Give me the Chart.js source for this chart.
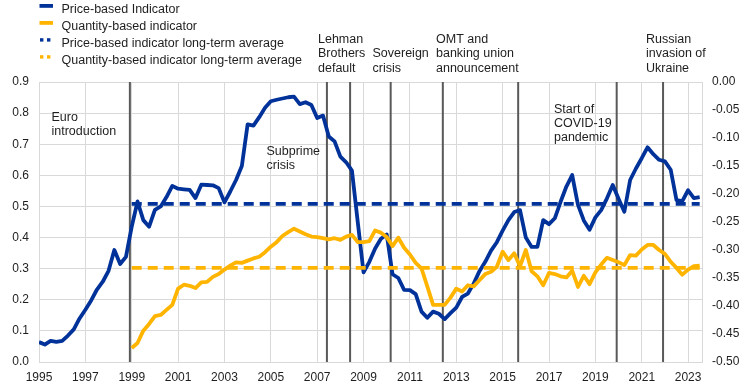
<!DOCTYPE html>
<html><head><meta charset="utf-8">
<script src="https://cdn.jsdelivr.net/npm/chart.js@4"></script>
<style>html,body{margin:0;padding:0;background:#fff}#wrap{width:744px;height:390px}</style>
</head><body><div id="wrap"><canvas id="c" width="744" height="390"></canvas></div>
<script>
// ---------- DATA ----------
const priceStartYear = 1995;      // quarterly, first observation 1995 Q1
const quantityStartYear = 1999;   // quarterly, first observation 1999 Q1
const priceValues = [
  0.064,0.056,0.068,0.065, 0.068,0.085,0.105,0.140, 0.168,0.198,0.233,0.258, 0.293,0.360,0.315,0.338,
  0.435,0.516,0.456,0.435, 0.489,0.500,0.530,0.566, 0.557,0.555,0.553,0.527, 0.570,0.569,0.568,0.559,
  0.513,0.548,0.585,0.630, 0.764,0.760,0.787,0.817, 0.838,0.843,0.847,0.851, 0.853,0.829,0.835,0.826,
  0.784,0.792,0.725,0.709, 0.660,0.642,0.615,0.450, 0.288,0.322,0.365,0.396, 0.410,0.282,0.270,0.232,
  0.231,0.218,0.162,0.142, 0.162,0.155,0.138,0.157, 0.175,0.209,0.220,0.252, 0.292,0.322,0.358,0.385,
  0.422,0.456,0.482,0.488, 0.400,0.370,0.370,0.456, 0.443,0.462,0.515,0.564, 0.601,0.505,0.455,0.425,
  0.465,0.488,0.526,0.569, 0.525,0.483,0.585,0.622, 0.655,0.690,0.668,0.650, 0.645,0.618,0.520,0.517,
  0.552,0.527,0.530
];
const quantityValues = [
  -0.475,-0.466,-0.444,-0.432, -0.418,-0.416,-0.407,-0.398, -0.369,-0.362,-0.364,-0.368, -0.358,-0.357,-0.348,-0.343,
  -0.335,-0.328,-0.322,-0.323, -0.319,-0.315,-0.312,-0.304, -0.294,-0.286,-0.275,-0.268, -0.262,-0.267,-0.272,-0.276,
  -0.277,-0.279,-0.281,-0.279, -0.282,-0.276,-0.273,-0.286, -0.286,-0.284,-0.265,-0.269, -0.277,-0.293,-0.278,-0.296,
  -0.308,-0.323,-0.333,-0.365, -0.398,-0.398,-0.398,-0.385, -0.369,-0.374,-0.363,-0.365, -0.354,-0.343,-0.339,-0.330,
  -0.303,-0.318,-0.306,-0.329, -0.300,-0.338,-0.347,-0.363, -0.341,-0.343,-0.347,-0.349, -0.337,-0.366,-0.346,-0.361,
  -0.340,-0.326,-0.314,-0.318, -0.322,-0.327,-0.309,-0.310, -0.299,-0.291,-0.291,-0.300, -0.307,-0.321,-0.332,-0.344,
  -0.335,-0.329,-0.328
];
const priceLongTermAverage = 0.508;
const quantityLongTermAverage = -0.332;
const averageFromYear = 1999;
const averageToYear = 2023.5;
const xTickYears = [1995,1997,1999,2001,2003,2005,2007,2009,2011,2013,2015,2017,2019,2021,2023];
const eventYears = [1998.92, 2007.42, 2008.42, 2010.17, 2012.42, 2015.67, 2019.92, 2021.92];
const eventTexts = [
  ["Euro","introduction"],
  ["Subprime","crisis"],
  ["Lehman","Brothers","default"],
  ["Sovereign","crisis"],
  ["OMT and","banking union","announcement"],
  ["Start of","COVID-19","pandemic"],
  ["Russian","invasion of","Ukraine"]
];
const legendTexts = [
  "Price-based Indicator",
  "Quantity-based indicator",
  "Price-based indicator long-term average",
  "Quantity-based indicator long-term average"
];

// ---------- STYLE / LAYOUT ----------
const BLUE = '#003299', YELLOW = '#FFB400', GRID = '#d9d9d9', EVENT = '#595959', TXT = '#1e1e1e';
const FONT = '"Liberation Sans", Arial, sans-serif';
const textPos = [ // pixel anchors for the annotation blocks (x, first baseline)
  [51.5,121],[266.5,155],[318,43],[372.5,57.3],[436,43],[554,112.5],[646,42.7]
];
const LINE_H = 14.4;

const priceData = priceValues.map((v,i)=>({x: priceStartYear + i/4, y: v}));
const quantityData = quantityValues.map((v,i)=>({x: quantityStartYear + i/4, y: v}));

const eventPlugin = {
  id:'events',
  beforeDatasetsDraw(chart){
    const {ctx, chartArea:a, scales:{x}} = chart;
    ctx.save();
    ctx.strokeStyle = EVENT; ctx.lineWidth = 2;
    eventYears.forEach(yr=>{
      const px = x.getPixelForValue(yr);
      ctx.beginPath(); ctx.moveTo(px, a.top); ctx.lineTo(px, a.bottom); ctx.stroke();
    });
    ctx.restore();
  }
};
const textPlugin = {
  id:'texts',
  afterDraw(chart){
    const ctx = chart.ctx;
    ctx.save();
    ctx.fillStyle = TXT;
    ctx.font = '12.5px ' + FONT;
    ctx.textBaseline = 'alphabetic';
    ctx.textAlign = 'left';
    eventTexts.forEach((lines,k)=>{
      lines.forEach((s,j)=>ctx.fillText(s, textPos[k][0], textPos[k][1] + j*LINE_H));
    });
    // legend
    const colors = [BLUE, YELLOW, BLUE, YELLOW];
    legendTexts.forEach((s,i)=>{
      const base = 12.7 + i*17;
      const cy = base - 6.8;
      ctx.fillStyle = colors[i];
      if (i < 2) {
        ctx.fillRect(39.5, cy - 1.9, 13.5, 3.8);
      } else {
        ctx.fillRect(40, cy - 1.7, 3.4, 3.4);
        ctx.fillRect(47, cy - 1.7, 3.4, 3.4);
      }
      ctx.fillStyle = TXT;
      ctx.fillText(s, 61.5, base);
    });
    ctx.restore();
  }
};

const common = {pointRadius:0, pointHoverRadius:0, tension:0, borderWidth:3.8, borderJoinStyle:'round', fill:false};

new Chart(document.getElementById('c'), {
  type:'line',
  data:{datasets:[
    Object.assign({label:legendTexts[0], data:priceData, borderColor:BLUE, yAxisID:'y', order:4}, common),
    Object.assign({label:legendTexts[1], data:quantityData, borderColor:YELLOW, yAxisID:'y1', order:3}, common),
    Object.assign({label:legendTexts[2], data:[{x:averageFromYear,y:priceLongTermAverage},{x:averageToYear,y:priceLongTermAverage}], borderColor:BLUE, borderDash:[10,6], yAxisID:'y', order:2}, common),
    Object.assign({label:legendTexts[3], data:[{x:averageFromYear,y:quantityLongTermAverage},{x:averageToYear,y:quantityLongTermAverage}], borderColor:YELLOW, borderDash:[10,6], yAxisID:'y1', order:1}, common)
  ]},
  options:{
    responsive:false, animation:false, devicePixelRatio:1,
    layout:{padding:{top:82,left:0,right:0,bottom:0}},
    plugins:{legend:{display:false}, tooltip:{enabled:false}},
    events:[],
    scales:{
      x:{type:'linear', min:1995, max:2023.6,
        afterBuildTicks:s=>{ s.ticks = xTickYears.map(v=>({value:v})); },
        afterFit:s=>{ s.height = 28; },
        ticks:{callback:v=>String(v), font:{size:12,family:FONT}, color:TXT, padding:8, maxRotation:0, autoSkip:false},
        grid:{color:GRID, lineWidth:1, drawTicks:false},
        border:{color:GRID, width:1}
      },
      y:{position:'left', min:0, max:0.9,
        afterFit:s=>{ s.width = 39; },
        ticks:{stepSize:0.1, callback:v=>Number(v).toFixed(1), font:{size:12,family:FONT}, color:TXT, padding:10},
        grid:{color:GRID, lineWidth:1, drawTicks:false},
        border:{color:GRID, width:1}
      },
      y1:{position:'right', min:-0.5, max:0,
        afterFit:s=>{ s.width = 42; },
        ticks:{stepSize:0.05, callback:v=>Number(v).toFixed(2), font:{size:12,family:FONT}, color:TXT, padding:10},
        grid:{drawOnChartArea:false, drawTicks:false},
        border:{color:GRID, width:1}
      }
    }
  },
  plugins:[eventPlugin, textPlugin]
});
</script>
</body></html>
